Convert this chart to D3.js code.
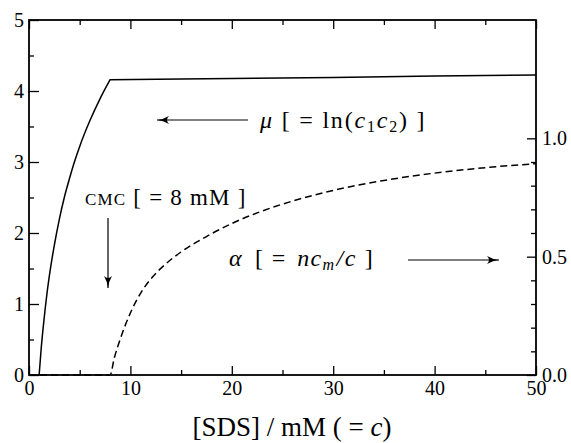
<!DOCTYPE html>
<html>
<head>
<meta charset="utf-8">
<script src="https://cdn.jsdelivr.net/npm/d3@7"></script>
<style>
  html, body { margin: 0; padding: 0; background: #fff; }
  svg { display: block; }
  svg text { font-family: "Liberation Serif", "Times New Roman", Times, serif !important; fill: #000; }
</style>
</head>
<body>
<svg id="chart" width="571" height="443"></svg>
<script>
// [SDS] concentration c (mM) and chemical potential mu = ln(c1 c2)
const muC      = [1.0, 1.2,  1.4,  1.6,  1.8,  2.0,  2.5,  3.0,  3.5,  4.0,  4.5,  5.0,  6.0,  7.0,  8.0,  15,   20,    30,   40,   50];
const muValues = [0,   0.37, 0.67, 0.94, 1.18, 1.39, 1.83, 2.20, 2.51, 2.77, 3.01, 3.22, 3.58, 3.89, 4.16, 4.17, 4.175, 4.19, 4.21, 4.225];
const cmcIndex = 14; // the CMC point, where the mu curve turns over

// degree of micellisation alpha = n c_m / c (right axis)
const alphaC      = [0, 4, 8.0, 8.4,  9.0,   10,    11,    12,    13.5, 15,   17.5,  20,    22.5,  25,    30,    35,    40,    45,    50];
const alphaValues = [0, 0, 0,   0.07, 0.152, 0.262, 0.345, 0.405, 0.47, 0.52, 0.585, 0.640, 0.685, 0.722, 0.780, 0.822, 0.853, 0.876, 0.893];

// tick positions
const xMajor = [0, 10, 20, 30, 40, 50];
const xMinor = [5, 15, 25, 35, 45];
const yLeftMajor = [0, 1, 2, 3, 4, 5];
const yLeftMinor = [0.5, 1.5, 2.5, 3.5, 4.5];
const yRightMajor = [0, 0.5, 1.0];
const yRightMinor = [0.1, 0.2, 0.3, 0.4, 0.6, 0.7, 0.8, 0.9];

const svg = d3.select("#chart").attr("font-family", "Liberation Serif, serif");
const pLeft = 29, pTop = 20, pRight = 536, pBottom = 375;

const x = d3.scaleLinear().domain([0, 50]).range([pLeft, pRight]);
const yL = d3.scaleLinear().domain([0, 5]).range([pBottom, pTop]);
const yR = d3.scaleLinear().domain([0, 1.5]).range([pBottom, pTop]);

function styleAxis(g) {
  g.attr("font-family", null);
  g.select(".domain").remove();
  g.selectAll(".tick line").attr("stroke", "#000").attr("stroke-width", 1.3);
  g.selectAll(".tick text").style("font-size", "20px");
}

// bottom axis: major ticks with labels, minor without
svg.append("g").attr("transform", `translate(0,${pBottom})`)
  .call(d3.axisBottom(x).tickValues(xMajor).tickSize(-9).tickPadding(6).tickFormat(d3.format("d")))
  .call(styleAxis);
svg.append("g").attr("transform", `translate(0,${pBottom})`)
  .call(d3.axisBottom(x).tickValues(xMinor).tickSize(-5).tickFormat(""))
  .call(styleAxis);
// top axis ticks
svg.append("g").attr("transform", `translate(0,${pTop})`)
  .call(d3.axisTop(x).tickValues(xMajor).tickSize(-9).tickFormat(""))
  .call(styleAxis);
svg.append("g").attr("transform", `translate(0,${pTop})`)
  .call(d3.axisTop(x).tickValues(xMinor).tickSize(-5).tickFormat(""))
  .call(styleAxis);

// left axis (mu)
svg.append("g").attr("transform", `translate(${pLeft},0)`)
  .call(d3.axisLeft(yL).tickValues(yLeftMajor).tickSize(-10).tickPadding(5).tickFormat(d3.format("d")))
  .call(styleAxis);
svg.append("g").attr("transform", `translate(${pLeft},0)`)
  .call(d3.axisLeft(yL).tickValues(yLeftMinor).tickSize(-5).tickFormat(""))
  .call(styleAxis);

// right axis (alpha)
svg.append("g").attr("transform", `translate(${pRight},0)`)
  .call(d3.axisRight(yR).tickValues(yRightMajor).tickSize(-9).tickPadding(6).tickFormat(d3.format(".1f")))
  .call(styleAxis);
svg.append("g").attr("transform", `translate(${pRight},0)`)
  .call(d3.axisRight(yR).tickValues(yRightMinor).tickSize(-5).tickFormat(""))
  .call(styleAxis);

// frame
svg.append("rect")
  .attr("x", pLeft).attr("y", pTop)
  .attr("width", pRight - pLeft).attr("height", pBottom - pTop)
  .attr("fill", "none").attr("stroke", "#000").attr("stroke-width", 1.8);

// mu curve: smooth rise up to the CMC, then the nearly flat branch
const muPts = muC.map((c, i) => [c, muValues[i]]);
const rise = d3.line().x(d => x(d[0])).y(d => yL(d[1])).curve(d3.curveMonotoneX);
const flat = d3.line().x(d => x(d[0])).y(d => yL(d[1]));
svg.append("path")
  .attr("d", rise(muPts.slice(0, cmcIndex + 1)) + flat(muPts.slice(cmcIndex)).replace(/^M/, "L"))
  .attr("fill", "none").attr("stroke", "#000").attr("stroke-width", 1.5)
  .attr("stroke-linejoin", "miter");

const alphaLine = d3.line().x((d, i) => x(alphaC[i])).y(d => yR(d)).curve(d3.curveMonotoneX);
svg.append("path").datum(alphaValues)
  .attr("d", alphaLine).attr("fill", "none").attr("stroke", "#000")
  .attr("stroke-width", 1.5).attr("stroke-dasharray", "7,4");

// arrowhead marker
svg.append("defs").append("marker")
  .attr("id", "head").attr("viewBox", "0 0 12 10")
  .attr("refX", 12).attr("refY", 5)
  .attr("markerWidth", 12).attr("markerHeight", 10)
  .attr("markerUnits", "userSpaceOnUse")
  .attr("orient", "auto")
  .append("path").attr("d", "M0,1 Q6,4.5 12,5 Q6,5.5 0,9 Q4,5 0,1 Z").attr("fill", "#000");

function arrow(x1, y1, x2, y2) {
  svg.append("line")
    .attr("x1", x1).attr("y1", y1).attr("x2", x2).attr("y2", y2)
    .attr("stroke", "#000").attr("stroke-width", 1.2)
    .attr("marker-end", "url(#head)");
}

// mu annotation
arrow(248, 120, 157, 120);
const muText = svg.append("text").attr("x", 260).attr("y", 128)
  .style("font-size", "24px").style("letter-spacing", "1.8px");
muText.append("tspan").style("font-style", "italic").text("μ");
muText.append("tspan").text("  [ = ln(");
muText.append("tspan").style("font-style", "italic").text("c");
muText.append("tspan").attr("baseline-shift", "-25%").style("font-size", "16px").text("1");
muText.append("tspan").style("font-style", "italic").text("c");
muText.append("tspan").attr("baseline-shift", "-25%").style("font-size", "16px").text("2");
muText.append("tspan").text(") ]");

// CMC annotation
const cmcText = svg.append("text").attr("x", 85).attr("y", 205)
  .style("font-size", "23px").style("letter-spacing", "1.2px");
cmcText.append("tspan").style("font-size", "17px").text("CMC");
cmcText.append("tspan").text("  [ = 8 mM ]");
arrow(108, 218, 108, 288);

// alpha annotation
const aText = svg.append("text").attr("x", 229).attr("y", 266)
  .style("font-size", "24px").style("letter-spacing", "1.4px");
aText.append("tspan").style("font-style", "italic").text("α");
aText.append("tspan").attr("dx", 12).text("[ = ");
aText.append("tspan").attr("dx", 3).style("font-style", "italic").text("nc");
aText.append("tspan").attr("baseline-shift", "-25%").style("font-size", "16px").style("font-style", "italic").text("m");
aText.append("tspan").attr("dx", 1).style("font-style", "italic").text("/c");
aText.append("tspan").attr("dx", 8).text("]");
arrow(408, 260, 499, 260);

// x-axis title
const xt = svg.append("text").attr("x", 292).attr("y", 436)
  .attr("text-anchor", "middle").style("font-size", "27px");
xt.append("tspan").text("[SDS]  /  mM  ( = ");
xt.append("tspan").style("font-style", "italic").text("c");
xt.append("tspan").text(")");
</script>
</body>
</html>
